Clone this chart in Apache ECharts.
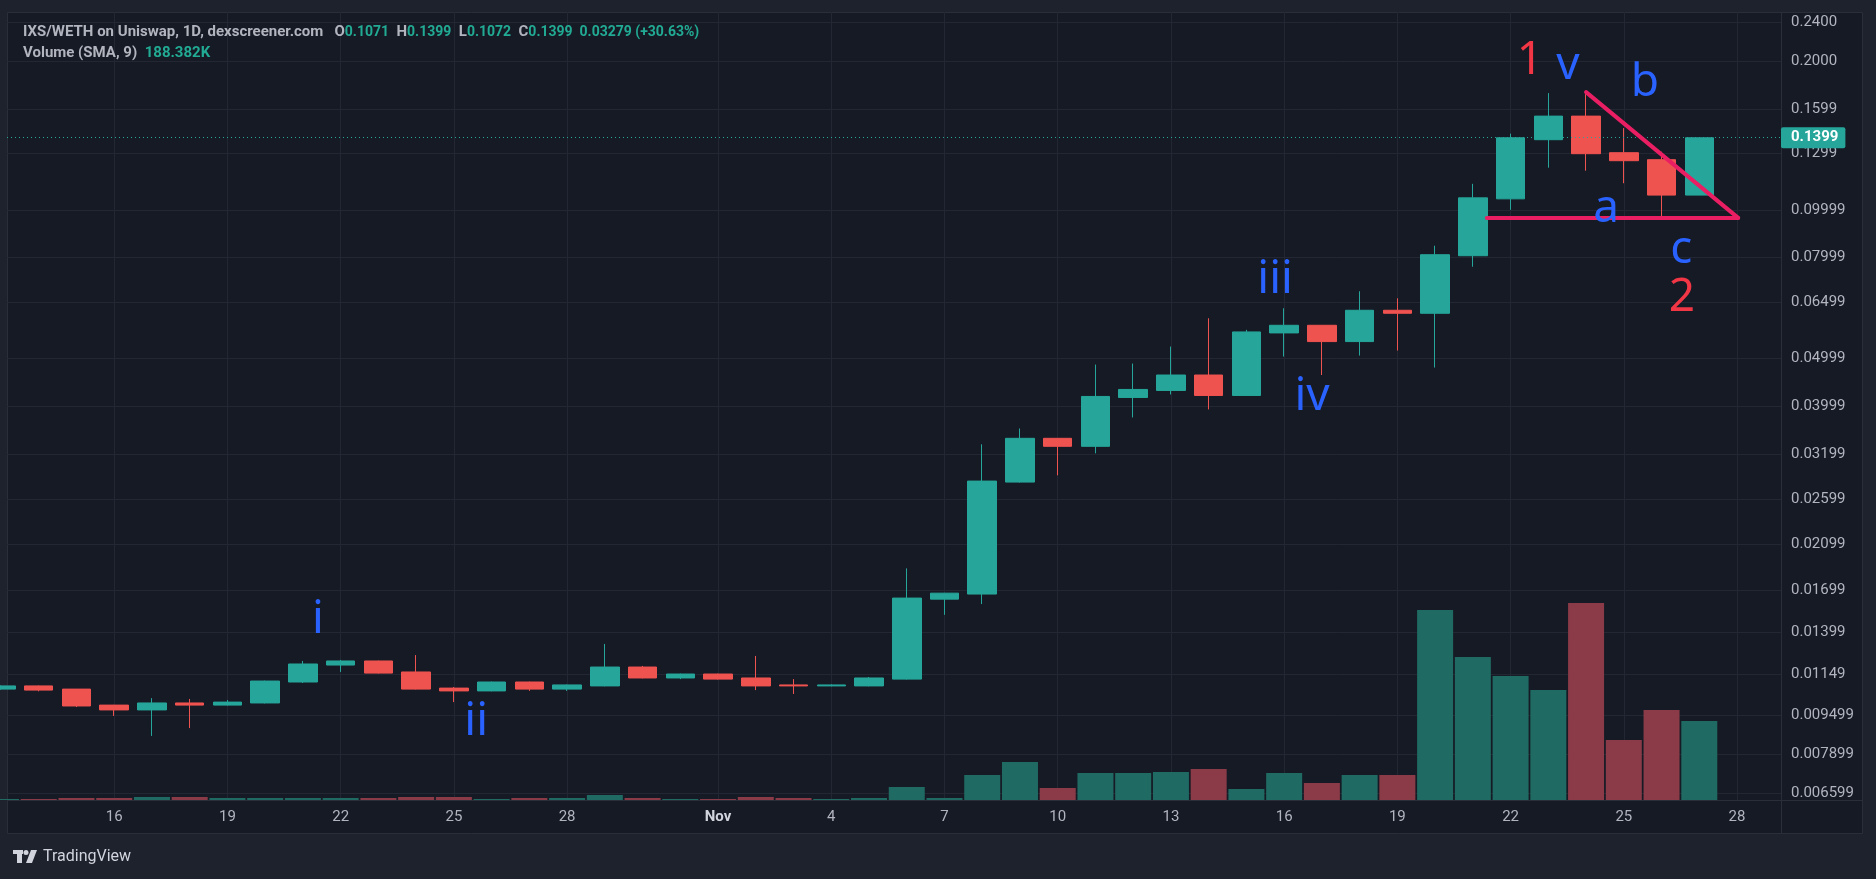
<!DOCTYPE html>
<html><head><meta charset="utf-8">
<script src="https://cdn.jsdelivr.net/npm/echarts@6/dist/echarts.min.js"></script>
<style>html,body{margin:0;padding:0;background:#1e222d;}#c{width:1876px;height:879px;}</style>
</head><body><div id="c"></div>
<script>
// ---- data ----
const days = ['Oct 13','Oct 14','Oct 15','Oct 16','Oct 17','Oct 18','Oct 19','Oct 20','Oct 21','Oct 22',
  'Oct 23','Oct 24','Oct 25','Oct 26','Oct 27','Oct 28','Oct 29','Oct 30','Oct 31','Nov 1',
  'Nov 2','Nov 3','Nov 4','Nov 5','Nov 6','Nov 7','Nov 8','Nov 9','Nov 10','Nov 11',
  'Nov 12','Nov 13','Nov 14','Nov 15','Nov 16','Nov 17','Nov 18','Nov 19','Nov 20','Nov 21',
  'Nov 22','Nov 23','Nov 24','Nov 25','Nov 26','Nov 27'];
const open  = [0.01071,0.01087,0.01071,0.00994,0.00972,0.01004,0.00994,0.01004,0.01107,0.01198,
  0.01221,0.01160,0.01076,0.01062,0.01107,0.01071,0.01087,0.01187,0.01128,0.01149,
  0.01128,0.01092,0.01087,0.01087,0.01122,0.01629,0.01668,0.02811,0.03447,0.03321,
  0.04170,0.04309,0.04630,0.04209,0.05634,0.05838,0.05411,0.06261,0.06174,0.08074,
  0.10525,0.13866,0.15477,0.13051,0.12632,0.10710];
const high  = [0.01090,0.01089,0.01071,0.00995,0.01027,0.01023,0.01018,0.01114,0.01221,0.01227,
  0.01223,0.01255,0.01081,0.01109,0.01109,0.01094,0.01322,0.01193,0.01151,0.01151,
  0.01250,0.01122,0.01095,0.01133,0.01880,0.01677,0.03352,0.03609,0.03450,0.04861,
  0.04884,0.05287,0.06032,0.05715,0.06320,0.05840,0.06841,0.06621,0.08459,0.11288,
  0.14260,0.17228,0.17148,0.14635,0.13112,0.13990];
const low   = [0.01068,0.01060,0.00985,0.00945,0.00861,0.00893,0.00992,0.01002,0.01102,0.01160,
  0.01152,0.01069,0.01008,0.01060,0.01062,0.01062,0.01085,0.01126,0.01122,0.01120,
  0.01066,0.01047,0.01085,0.01085,0.01120,0.01514,0.01592,0.02805,0.02901,0.03214,
  0.03799,0.04229,0.03944,0.04205,0.05046,0.04630,0.05069,0.05189,0.04794,0.07670,
  0.09999,0.12169,0.12000,0.11320,0.09588,0.10710];
const close = [0.01087,0.01066,0.00990,0.00972,0.01004,0.00994,0.01008,0.01112,0.01204,0.01221,
  0.01154,0.01071,0.01062,0.01107,0.01071,0.01092,0.01187,0.01128,0.01149,0.01122,
  0.01087,0.01087,0.01092,0.01128,0.01637,0.01675,0.02824,0.03447,0.03321,0.04190,
  0.04329,0.04630,0.04209,0.05660,0.05838,0.05411,0.06261,0.06174,0.08112,0.10574,
  0.13990,0.15477,0.12990,0.12573,0.10710,0.13990];
const volume = [1.7,1.7,3.3,3.3,5,5,3.3,3.3,3.3,3.3,
  3.3,5,5,1.7,3.3,3.3,8.3,3.3,1.7,1.7,
  5,3.3,1.7,3.3,21.7,3.3,41.6,63.3,20,45,
  45,46.6,51.6,18.3,45,28.3,41.6,41.6,316.5,238.2,
  206.6,183.3,328.2,100,150,131.6]; // thousands

const yTickValues = [0.24,0.2,0.1599,0.1299,0.09999,0.07999,0.06499,0.04999,0.03999,0.03199,
  0.02599,0.02099,0.01699,0.01399,0.01149,0.009499,0.007899,0.006599];
const yTickLabels = ['0.2400','0.2000','0.1599','0.1299','0.09999','0.07999','0.06499','0.04999','0.03999','0.03199',
  '0.02599','0.02099','0.01699','0.01399','0.01149','0.009499','0.007899','0.006599'];
const xTickIdx = [3,6,9,12,15,19,22,25,28,31,34,37,40,43,46];
const xTickLabels = ['16','19','22','25','28','Nov','4','7','10','13','16','19','22','25','28'];

// wave annotations (day index, price)
const waveText = ['1','v','b','a','c','2','iii','iv','i','ii'];
const waveX    = [40.51,41.52,43.56,42.53,44.52,44.54,33.76,34.74,8.40,12.59];
const waveY    = [0.2000,0.1954,0.1805,0.1005,0.0830,0.0662,0.0720,0.0419,0.01479,0.00919];
// trend lines [[x1,y1],[x2,y2]]
const trendLines = [[[42.0,0.1731],[46.03,0.09633]],[[39.37,0.09633],[46.03,0.09633]]];

const headerText = 'IXS/WETH on Uniswap, 1D, dexscreener.com';
const volSmaText = '188.382K';

// ---- chart ----
const UP='#26a69a', DOWN='#ef5350', VUP='#1f6b63', VDOWN='#8a3b47';
const GRIDC='#232733', TXT='#b2b5be', FONT='Roboto', FS=15;
const chart = echarts.init(document.getElementById('c'), null, {renderer:'canvas'});

function yLabel(v){
  let best=0, bd=1e9;
  yTickValues.forEach((t,i)=>{const d=Math.abs(Math.log(v/t)); if(d<bd){bd=d;best=i;}});
  return yTickLabels[best];
}
function xLabel(v){
  const i = xTickIdx.indexOf(Math.round(v));
  if(i<0) return '';
  return xTickLabels[i]==='Nov' ? '{b|Nov}' : xTickLabels[i];
}
const candleData = days.map((d,i)=>[i, open[i], close[i], low[i], high[i]]);
const volData = days.map((d,i)=>({value:[i, volume[i]], itemStyle:{color: close[i]>=open[i]?VUP:VDOWN}}));
const lastClose = close[close.length-1];
const richHdr = {g:{color:TXT,fontSize:FS,fontFamily:FONT},t:{color:'#22ab94',fontSize:14,fontFamily:FONT}};

const option = {
  animation:false,
  backgroundColor:'#161a25',
  title:[
    {left:23, top:25, padding:0,
     text:'{g|'+headerText+'   O}{t|'+open[45].toFixed(4)+'}{g|  H}{t|0.1399}{g|  L}{t|0.1072}{g|  C}{t|'+lastClose.toFixed(4)+'}{t|  0.03279 (+30.63%)}',
     textStyle:{rich:richHdr}},
    {left:23, top:46, padding:0,
     text:'{g|Volume (SMA, 9)}{t|  '+volSmaText+'}',
     textStyle:{rich:{g:richHdr.g, t:{color:'#22ab94',fontSize:FS,fontFamily:FONT}}}}
  ],
  grid:{left:7, right:95, top:12, bottom:79, containLabel:false},
  xAxis:{type:'value', min:0.159, max:47.165,
    axisLine:{show:false}, axisTick:{show:false, customValues:xTickIdx},
    axisLabel:{customValues:xTickIdx, formatter:xLabel, color:TXT, fontSize:FS, fontFamily:FONT, margin:10,
      rich:{b:{color:'#d1d4dc', fontSize:FS, fontWeight:'bold', fontFamily:FONT}}},
    splitLine:{show:true, lineStyle:{color:GRIDC, width:1}}},
  yAxis:[
    {type:'log', position:'right', min:0.006387, max:0.25145,
     axisLine:{show:false}, axisTick:{show:false, customValues:yTickValues},
     axisLabel:{customValues:yTickValues, formatter:yLabel, color:TXT, fontSize:FS, fontFamily:FONT, margin:10},
     splitLine:{show:true, lineStyle:{color:GRIDC, width:1}}},
    {type:'value', min:0, max:1313, show:false, splitLine:{show:false}}
  ],
  series:[
    {type:'bar', name:'Volume', xAxisIndex:0, yAxisIndex:1, barWidth:36, data:volData, z:1, silent:true},
    {type:'candlestick', name:'IXS/WETH', xAxisIndex:0, yAxisIndex:0, barWidth:29, data:candleData, z:3, silent:true,
     itemStyle:{color:UP, color0:DOWN, borderColor:UP, borderColor0:DOWN, borderWidth:1},
     markLine:{silent:true, symbol:['none','none'], animation:false,
       data:[
         {yAxis:lastClose, lineStyle:{color:UP, type:[1,3], width:1},
          label:{show:true, position:'end', formatter:lastClose.toFixed(4), distance:0,
            backgroundColor:UP, color:'#ffffff', fontSize:FS, fontFamily:FONT, fontWeight:'bold', padding:[3,7,3,10], borderRadius:2}},
         ...trendLines.map(l=>[
           {coord:l[0], lineStyle:{color:'#e91e63', width:4, type:'solid', cap:'round'}, label:{show:false}},
           {coord:l[1]}
         ])
       ]},
     markPoint:{silent:true, symbol:'circle', symbolSize:1, itemStyle:{color:'rgba(0,0,0,0)'}, animation:false,
       data: waveText.map((t,i)=>({name:t, coord:[waveX[i], waveY[i]],
         label:{show:true, position:'inside', formatter:'{b}', fontSize:46, fontFamily:'Noto Sans',
           color:(t==='1'||t==='2')?'#f23645':'#2962ff'}}))}
    }
  ],
  graphic:{elements:[
    {type:'rect', shape:{x:0,y:0,width:1876,height:12}, style:{fill:'#1e222d'}, silent:true},
    {type:'rect', shape:{x:0,y:834,width:1876,height:45}, style:{fill:'#1e222d'}, silent:true},
    {type:'rect', shape:{x:0,y:0,width:7,height:879}, style:{fill:'#1e222d'}, silent:true},
    {type:'rect', shape:{x:1863,y:0,width:13,height:879}, style:{fill:'#1e222d'}, silent:true},
    {type:'rect', shape:{x:7.5,y:12.5,width:1855,height:821}, style:{fill:'none', stroke:'#2a2e39', lineWidth:1}, silent:true},
    {type:'line', shape:{x1:1781.5,y1:12,x2:1781.5,y2:834}, style:{stroke:'#2a2e39', lineWidth:1}, silent:true},
    {type:'line', shape:{x1:7,y1:800.5,x2:1863,y2:800.5}, style:{stroke:'#2a2e39', lineWidth:1}, silent:true},
    {type:'rect', shape:{x:13,y:850,width:10,height:4}, style:{fill:'#d1d4dc'}, silent:true},
    {type:'rect', shape:{x:17,y:850,width:5,height:13}, style:{fill:'#d1d4dc'}, silent:true},
    {type:'circle', shape:{cx:26,cy:852.5,r:2.5}, style:{fill:'#d1d4dc'}, silent:true},
    {type:'polygon', shape:{points:[[31,850],[37,850],[32,863],[26,863]]}, style:{fill:'#d1d4dc'}, silent:true},
    {type:'text', x:43, y:857, style:{text:'TradingView', fill:'#d1d4dc', font:'16px Roboto', textVerticalAlign:'middle', verticalAlign:'middle'}, silent:true}
  ]}
};
chart.setOption(option);
</script></body></html>
